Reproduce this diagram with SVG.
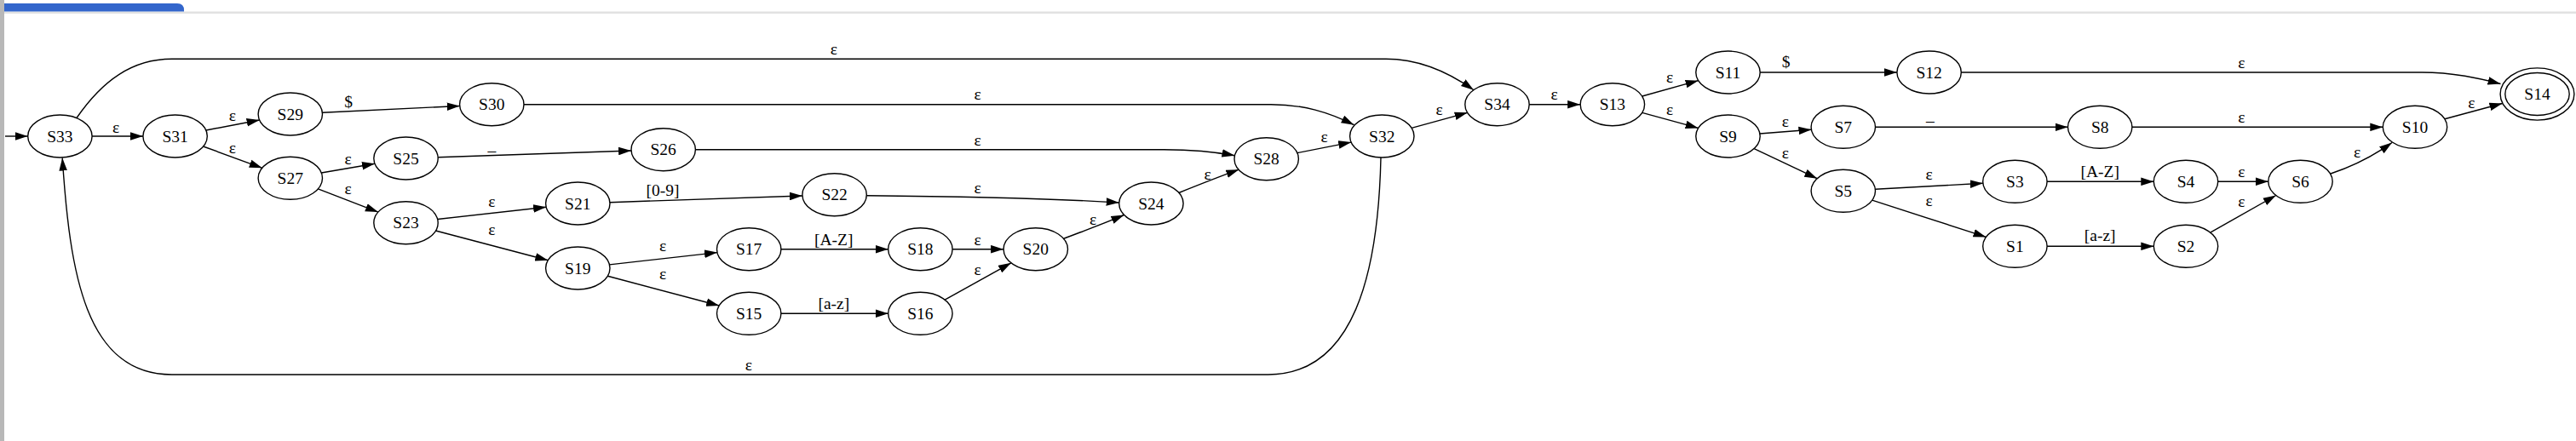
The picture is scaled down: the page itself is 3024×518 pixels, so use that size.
<svg xmlns="http://www.w3.org/2000/svg" width="3024" height="518" viewBox="0 0 3024 518">
<defs>
<marker id="arr" markerUnits="userSpaceOnUse" markerWidth="15" markerHeight="10" viewBox="0 0 15 10" refX="15" refY="5" orient="auto"><path d="M0,0.2 L15,5 L0,9.8 z" fill="#000"/></marker>
<style>
.n ellipse{fill:none;stroke:#000;stroke-width:1.4}
.n text{font-family:"Liberation Serif","Times New Roman",serif;font-size:19.5px;text-anchor:middle;fill:#000}
#edges path{fill:none;stroke:#000;stroke-width:1.4;marker-end:url(#arr)}
#edges text{font-family:"Liberation Serif","Times New Roman",serif;font-size:19.5px;text-anchor:middle;fill:#000}
</style>
</defs>
<rect x="0" y="0" width="3024" height="518" fill="#fff"/>
<rect x="0" y="13.5" width="3024" height="2.5" fill="#e2e2e2"/>
<path d="M5,4 L208,4 Q216,4 216,12 L216,13.5 L5,13.5 z" fill="#3366cc"/>
<rect x="0" y="0" width="5" height="518" fill="#b8b8b8"/>

<g id="edges">
<path d="M6,160 L32.5,160"/>
<path d="M108.1,160 L167.9,160"/><text x="136" y="155.5">ε</text>
<path d="M241.8,153 L304.6,141"/><text x="272.8" y="141.5">ε</text>
<path d="M238.6,172 L307.8,197.3"/><text x="272.8" y="180">ε</text>
<path d="M378.4,132.2 L539.7,124.5"/><text x="409" y="125.6">$</text>
<path d="M377.3,203 L440,192.3"/><text x="408.5" y="193">ε</text>
<path d="M373.4,221.9 L443.9,249.1"/><text x="408.5" y="228">ε</text>
<path d="M514.2,184.7 L741.1,177"/><text x="577.3" y="177">_</text>
<path d="M513.7,257.5 L641.1,243.2"/><text x="577.3" y="242.5">ε</text>
<path d="M511.5,271 L643.3,305.8"/><text x="577.3" y="276">ε</text>
<path d="M716,237.7 L941.9,230"/><text x="778" y="229.8">[0-9]</text>
<path d="M715.5,310.9 L842,296.6"/><text x="778" y="295">ε</text>
<path d="M713.3,324.3 L844.2,359"/><text x="778" y="328">ε</text>
<path d="M916.9,292.7 L1042.7,292.7"/><text x="978.8" y="288.2">[A-Z]</text>
<path d="M916.9,368.3 L1042.7,368.3"/><text x="978.8" y="363.2">[a-z]</text>
<path d="M1118.1,292.7 L1178.1,292.7"/><text x="1147.6" y="288.3">ε</text>
<path d="M1109.2,352.2 L1187,308.8"/><text x="1147.6" y="323">ε</text>
<path d="M1017.3,229.7 C1150,231 1250,234 1313.7,238"/><text x="1147.6" y="227.3">ε</text>
<path d="M1248.2,280.5 C1270,272 1295,263 1319.5,252.5"/><text x="1283" y="264">ε</text>
<path d="M1383.8,226.5 C1405,218 1430,208 1454.3,199.2"/><text x="1417.5" y="210.5">ε</text>
<path d="M816.4,175.7 L1366,175.7 C1400,175.7 1425,178 1449.5,182.8"/><text x="1147.6" y="170.7">ε</text>
<path d="M1522.8,179.6 L1586.2,167.1"/><text x="1554.7" y="167">ε</text>
<path d="M615,122.7 L1492,122.7 C1530,122.7 1560,132 1589.5,146.7"/><text x="1147.6" y="117.3">ε</text>
<path d="M1657.1,150.4 L1722.7,132.3"/><text x="1689.5" y="135">ε</text>
<path d="M90,138.5 C120,95 155,69.3 201.7,69.3 L1627,69.3 C1670,69.3 1705,88 1730,105.8"/><text x="978.8" y="63.8">ε</text>
<path d="M1621,185 C1618,320 1590,440 1488.6,440 L201.7,440 C100,440 82,320 73.2,185.5"/><text x="878.8" y="435">ε</text>
<path d="M1795.2,122.7 L1855.2,122.7"/><text x="1824.5" y="117.3">ε</text>
<path d="M1927.8,113 L1993.6,94.7"/><text x="1960" y="97.3">ε</text>
<path d="M1927.8,132.3 L1993.6,150.4"/><text x="1960" y="135">ε</text>
<path d="M2066.2,85 L2226.9,85"/><text x="2096.6" y="79">$</text>
<path d="M2065.9,157 L2126.4,152.3"/><text x="2095.8" y="149.3">ε</text>
<path d="M2059.2,174.6 L2133.2,209.7"/><text x="2095.8" y="186">ε</text>
<path d="M2201.5,149.3 L2427.5,149.3"/><text x="2265.8" y="142">_</text>
<path d="M2201.4,222.3 L2327.8,215.3"/><text x="2264.6" y="210.7">ε</text>
<path d="M2197.7,235.2 L2331.5,278.4"/><text x="2264.6" y="241.7">ε</text>
<path d="M2403.1,213.3 L2528.3,213.3"/><text x="2465.2" y="208.3">[A-Z]</text>
<path d="M2403.1,289.3 L2528.3,289.3"/><text x="2465.2" y="283.2">[a-z]</text>
<path d="M2603.7,213.3 L2662.8,213.3"/><text x="2631.3" y="208.3">ε</text>
<path d="M2594.7,273.1 L2671.8,229.5"/><text x="2631.3" y="243.3">ε</text>
<path d="M2502.9,149.3 L2797.3,149.3"/><text x="2631.3" y="144">ε</text>
<path d="M2736,204 C2760,196 2785,184 2808,167.5"/><text x="2767" y="185">ε</text>
<path d="M2869.9,139.8 L2937.5,121.5"/><text x="2901.4" y="126.7">ε</text>
<path d="M2302.3,85 L2843,85 C2880,85 2910,92 2935.5,98.5"/><text x="2631.3" y="80">ε</text>
</g>

<g id="S33" class="n"><ellipse cx="70.4" cy="160" rx="37.7" ry="25"/><text x="70.4" y="166.6">S33</text></g>
<g id="S31" class="n"><ellipse cx="205.6" cy="160" rx="37.7" ry="25"/><text x="205.6" y="166.6">S31</text></g>
<g id="S29" class="n"><ellipse cx="340.8" cy="134" rx="37.7" ry="25"/><text x="340.8" y="140.6">S29</text></g>
<g id="S27" class="n"><ellipse cx="340.8" cy="209.3" rx="37.7" ry="25"/><text x="340.8" y="215.9">S27</text></g>
<g id="S30" class="n"><ellipse cx="577.3" cy="122.7" rx="37.7" ry="25"/><text x="577.3" y="129.3">S30</text></g>
<g id="S25" class="n"><ellipse cx="476.5" cy="186" rx="37.7" ry="25"/><text x="476.5" y="192.6">S25</text></g>
<g id="S23" class="n"><ellipse cx="476.5" cy="261.7" rx="37.7" ry="25"/><text x="476.5" y="268.3">S23</text></g>
<g id="S26" class="n"><ellipse cx="778.7" cy="175.7" rx="37.7" ry="25"/><text x="778.7" y="182.3">S26</text></g>
<g id="S21" class="n"><ellipse cx="678.3" cy="239" rx="37.7" ry="25"/><text x="678.3" y="245.6">S21</text></g>
<g id="S19" class="n"><ellipse cx="678.3" cy="315" rx="37.7" ry="25"/><text x="678.3" y="321.6">S19</text></g>
<g id="S22" class="n"><ellipse cx="979.6" cy="228.7" rx="37.7" ry="25"/><text x="979.6" y="235.3">S22</text></g>
<g id="S17" class="n"><ellipse cx="879.2" cy="292.7" rx="37.7" ry="25"/><text x="879.2" y="299.3">S17</text></g>
<g id="S15" class="n"><ellipse cx="879.2" cy="368.3" rx="37.7" ry="25"/><text x="879.2" y="374.9">S15</text></g>
<g id="S18" class="n"><ellipse cx="1080.4" cy="292.7" rx="37.7" ry="25"/><text x="1080.4" y="299.3">S18</text></g>
<g id="S16" class="n"><ellipse cx="1080.4" cy="368.3" rx="37.7" ry="25"/><text x="1080.4" y="374.9">S16</text></g>
<g id="S20" class="n"><ellipse cx="1215.8" cy="292.7" rx="37.7" ry="25"/><text x="1215.8" y="299.3">S20</text></g>
<g id="S24" class="n"><ellipse cx="1351.4" cy="239" rx="37.7" ry="25"/><text x="1351.4" y="245.6">S24</text></g>
<g id="S28" class="n"><ellipse cx="1486.7" cy="186.7" rx="37.7" ry="25"/><text x="1486.7" y="193.3">S28</text></g>
<g id="S32" class="n"><ellipse cx="1622.3" cy="160" rx="37.7" ry="25"/><text x="1622.3" y="166.6">S32</text></g>
<g id="S34" class="n"><ellipse cx="1757.5" cy="122.7" rx="37.7" ry="25"/><text x="1757.5" y="129.3">S34</text></g>
<g id="S13" class="n"><ellipse cx="1892.9" cy="122.7" rx="37.7" ry="25"/><text x="1892.9" y="129.3">S13</text></g>
<g id="S11" class="n"><ellipse cx="2028.5" cy="85" rx="37.7" ry="25"/><text x="2028.5" y="91.6">S11</text></g>
<g id="S12" class="n"><ellipse cx="2264.6" cy="85" rx="37.7" ry="25"/><text x="2264.6" y="91.6">S12</text></g>
<g id="S9" class="n"><ellipse cx="2028.5" cy="160" rx="37.7" ry="25"/><text x="2028.5" y="166.6">S9</text></g>
<g id="S7" class="n"><ellipse cx="2163.8" cy="149.3" rx="37.7" ry="25"/><text x="2163.8" y="155.9">S7</text></g>
<g id="S5" class="n"><ellipse cx="2163.8" cy="224.3" rx="37.7" ry="25"/><text x="2163.8" y="230.9">S5</text></g>
<g id="S3" class="n"><ellipse cx="2365.4" cy="213.3" rx="37.7" ry="25"/><text x="2365.4" y="219.9">S3</text></g>
<g id="S1" class="n"><ellipse cx="2365.4" cy="289.3" rx="37.7" ry="25"/><text x="2365.4" y="295.9">S1</text></g>
<g id="S8" class="n"><ellipse cx="2465.2" cy="149.3" rx="37.7" ry="25"/><text x="2465.2" y="155.9">S8</text></g>
<g id="S4" class="n"><ellipse cx="2566" cy="213.3" rx="37.7" ry="25"/><text x="2566" y="219.9">S4</text></g>
<g id="S2" class="n"><ellipse cx="2566" cy="289.3" rx="37.7" ry="25"/><text x="2566" y="295.9">S2</text></g>
<g id="S6" class="n"><ellipse cx="2700.5" cy="213.3" rx="37.7" ry="25"/><text x="2700.5" y="219.9">S6</text></g>
<g id="S10" class="n"><ellipse cx="2835" cy="149.3" rx="37.7" ry="25"/><text x="2835" y="155.9">S10</text></g>
<g id="S14" class="n"><ellipse cx="2978.5" cy="110.5" rx="37.7" ry="25"/><ellipse cx="2978.5" cy="110.5" rx="43.4" ry="30.6"/><text x="2978.5" y="117.1">S14</text></g>
</svg>
